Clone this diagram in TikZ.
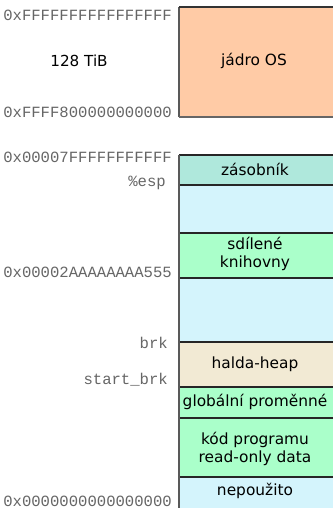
\documentclass[tikz,border=0pt]{standalone}
\usepackage{fontspec}
\setmainfont{DejaVu Sans}
\newfontfamily\labmono{Liberation Mono}
\definecolor{peach}{HTML}{FFCBA6}
\definecolor{stackc}{HTML}{AFE8DC}
\definecolor{freec}{HTML}{D4F4FC}
\definecolor{greenc}{HTML}{AAFFCA}
\definecolor{heapc}{HTML}{F2EAD4}
\definecolor{labgray}{HTML}{666666}
\begin{document}
\begin{tikzpicture}[x=1pt,y=-1pt,
  seg/.style={inner sep=0pt, outer sep=0pt, anchor=north west, minimum width=160pt},
  boxtext/.style={font=\fontsize{15.4}{18.5}\selectfont, align=center, inner sep=0pt},
  addr/.style={font=\labmono\fontsize{15.6}{18}\selectfont, text=labgray, anchor=east, inner sep=0pt},
  sep/.style={line width=1.3pt, draw=black!85},
  edge/.style={line width=2pt, draw=black!65}]
\useasboundingbox[fill=white] (0,0) rectangle (332,508);
% kernel
\node[seg, fill=peach, minimum height=110pt] (kern) at (179,7) {};
\draw[edge] (kern.south west) -- (kern.north west);
\draw[sep, draw=black!80] (kern.north west) -- (kern.north east);
\draw[sep, draw=black!60] (kern.south west) -- (kern.south east);
\node[boxtext] (kt) at (254,61) {jádro OS};
% user segments
\node[seg, fill=stackc, minimum height=30pt] (stk) at (179,155) {};
\node[seg, fill=freec, minimum height=48pt] (g1) at (179,185) {};
\node[seg, fill=greenc, minimum height=45pt] (lib) at (179,233) {};
\node[seg, fill=freec, minimum height=64pt] (g2) at (179,278) {};
\node[seg, fill=heapc, minimum height=45pt] (heap) at (179,342) {};
\node[seg, fill=greenc, minimum height=31pt] (glob) at (179,387) {};
\node[seg, fill=greenc, minimum height=59pt] (code) at (179,418) {};
\node[seg, fill=freec, minimum height=40pt] (unused) at (179,477) {};
\draw[sep] (stk.north west) -- (stk.north east);
\foreach \s in {g1,lib,g2,heap,glob,code,unused}
  \draw[sep] (\s.north west) -- (\s.north east);
\draw[edge] (stk.north west) -- (unused.south west);
% texts
\node[boxtext] at (255,169) {zásobník};
\node[boxtext] at (255,254) {sdílené\\knihovny};
\node[boxtext] at (255,364) {halda-heap};
\node[boxtext] at (255,402) {globální proměnné};
\node[boxtext] at (255,449) {kód programu\\read-only data};
\node[boxtext] at (255,491) {nepoužito};
% addresses
\node[addr] (a1) at (172,15) {0xFFFFFFFFFFFFFFFF};
\node[font=\fontsize{15.2}{18}\selectfont, inner sep=0pt] (size) at (79,61) {128 TiB};
\node[addr] (a2) at (172,112) {0xFFFF800000000000};
\node[addr] (a3) at (172,157) {0x00007FFFFFFFFFFF};
\node[addr] (esp) at (166,183) {\%esp};
\node[addr] (a4) at (172,272) {0x00002AAAAAAAA555};
\node[addr] (brk) at (168,343) {brk};
\node[addr] (sbrk) at (168,380) {start\_brk};
\node[addr] (a5) at (172,501) {0x0000000000000000};
\end{tikzpicture}
\end{document}
